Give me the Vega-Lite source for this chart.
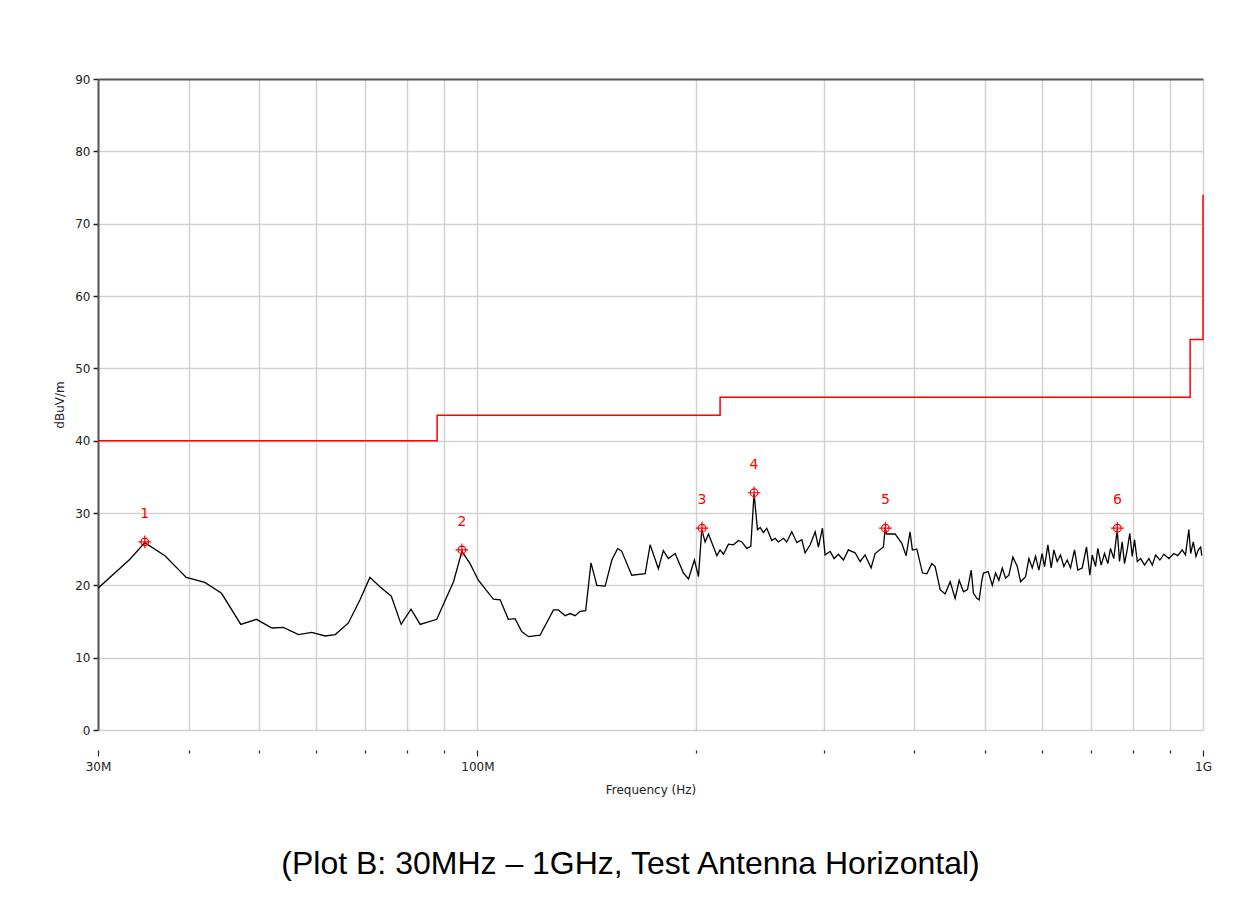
{
  "$schema": "https://vega.github.io/schema/vega-lite/v6.json",
  "autosize": {"type": "none"},
  "width": 1105,
  "height": 651,
  "padding": {"left": 98, "top": 79, "right": 50, "bottom": 184},
  "background": "white",
  "config": {
    "view": {"stroke": null},
    "axis": {"labelFont": "DejaVu Sans", "titleFont": "DejaVu Sans", "labelColor": "#222", "titleColor": "#222", "titleFontWeight": "normal"}
  },
  "title": {
    "text": "(Plot B: 30MHz – 1GHz, Test Antenna Horizontal)",
    "orient": "bottom",
    "anchor": "middle",
    "font": "Liberation Sans",
    "fontSize": 32,
    "fontWeight": "normal",
    "color": "#000",
    "offset": 54,
    "dx": -20
  },
  "datasets": {
    "trace": [
      {"freq": 30.0, "level": 19.6}, {"freq": 33.2, "level": 23.6}, {"freq": 34.8, "level": 25.9}, {"freq": 37.1, "level": 24.1},
      {"freq": 39.7, "level": 21.1}, {"freq": 42.1, "level": 20.4}, {"freq": 44.4, "level": 18.9}, {"freq": 47.2, "level": 14.6},
      {"freq": 49.6, "level": 15.3}, {"freq": 52.1, "level": 14.1}, {"freq": 54.0, "level": 14.2}, {"freq": 56.7, "level": 13.2},
      {"freq": 59.1, "level": 13.5}, {"freq": 61.7, "level": 13.0}, {"freq": 63.7, "level": 13.2}, {"freq": 66.4, "level": 14.8},
      {"freq": 68.9, "level": 18.0}, {"freq": 71.1, "level": 21.1}, {"freq": 73.4, "level": 19.8}, {"freq": 76.1, "level": 18.5},
      {"freq": 78.5, "level": 14.6}, {"freq": 81.0, "level": 16.7}, {"freq": 83.4, "level": 14.6}, {"freq": 87.9, "level": 15.3},
      {"freq": 92.7, "level": 20.5}, {"freq": 95.2, "level": 24.7}, {"freq": 97.7, "level": 23.0}, {"freq": 100.3, "level": 20.7},
      {"freq": 105.2, "level": 18.1}, {"freq": 107.5, "level": 18.0}, {"freq": 110.3, "level": 15.3}, {"freq": 112.7, "level": 15.4},
      {"freq": 115.1, "level": 13.6}, {"freq": 117.6, "level": 12.9}, {"freq": 122.0, "level": 13.1}, {"freq": 127.3, "level": 16.6},
      {"freq": 129.3, "level": 16.6}, {"freq": 132.1, "level": 15.8}, {"freq": 134.2, "level": 16.1}, {"freq": 136.4, "level": 15.8},
      {"freq": 138.5, "level": 16.4}, {"freq": 141.0, "level": 16.5}, {"freq": 143.4, "level": 23.1}, {"freq": 146.1, "level": 20.0},
      {"freq": 150.0, "level": 19.9}, {"freq": 153.2, "level": 23.5}, {"freq": 156.1, "level": 25.1}, {"freq": 158.1, "level": 24.7},
      {"freq": 163.2, "level": 21.4}, {"freq": 170.3, "level": 21.6}, {"freq": 173.0, "level": 25.6}, {"freq": 177.6, "level": 22.3},
      {"freq": 180.4, "level": 24.8}, {"freq": 183.3, "level": 23.7}, {"freq": 187.3, "level": 24.4}, {"freq": 192.3, "level": 21.7},
      {"freq": 195.4, "level": 20.9}, {"freq": 199.1, "level": 23.5}, {"freq": 201.7, "level": 21.2}, {"freq": 203.8, "level": 27.7},
      {"freq": 206.0, "level": 26.0}, {"freq": 208.2, "level": 27.1}, {"freq": 213.8, "level": 24.1}, {"freq": 216.0, "level": 24.9},
      {"freq": 218.3, "level": 24.3}, {"freq": 221.8, "level": 25.7}, {"freq": 225.4, "level": 25.6}, {"freq": 229.0, "level": 26.2},
      {"freq": 231.4, "level": 26.0}, {"freq": 235.1, "level": 25.1}, {"freq": 238.1, "level": 25.4}, {"freq": 240.6, "level": 32.7},
      {"freq": 243.2, "level": 27.7}, {"freq": 245.3, "level": 28.0}, {"freq": 247.8, "level": 27.3}, {"freq": 250.5, "level": 27.9},
      {"freq": 254.5, "level": 26.2}, {"freq": 257.2, "level": 26.5}, {"freq": 259.9, "level": 26.0}, {"freq": 264.1, "level": 26.5},
      {"freq": 266.9, "level": 26.0}, {"freq": 271.2, "level": 27.4}, {"freq": 275.6, "level": 25.9}, {"freq": 280.0, "level": 26.3},
      {"freq": 282.9, "level": 24.5}, {"freq": 287.5, "level": 25.6}, {"freq": 292.1, "level": 27.4}, {"freq": 295.1, "level": 25.3},
      {"freq": 298.9, "level": 27.9}, {"freq": 301.4, "level": 24.2}, {"freq": 306.3, "level": 24.7}, {"freq": 310.2, "level": 23.7},
      {"freq": 314.4, "level": 24.3}, {"freq": 319.5, "level": 23.5}, {"freq": 324.5, "level": 24.9}, {"freq": 331.5, "level": 24.5},
      {"freq": 336.9, "level": 23.3}, {"freq": 342.2, "level": 24.2}, {"freq": 348.8, "level": 22.4}, {"freq": 353.3, "level": 24.4},
      {"freq": 362.7, "level": 25.3}, {"freq": 364.7, "level": 27.9}, {"freq": 366.6, "level": 27.1}, {"freq": 376.4, "level": 27.1},
      {"freq": 384.5, "level": 25.8}, {"freq": 389.8, "level": 24.1}, {"freq": 394.7, "level": 27.4}, {"freq": 397.6, "level": 24.9},
      {"freq": 403.3, "level": 25.0}, {"freq": 410.6, "level": 21.7}, {"freq": 416.3, "level": 21.6}, {"freq": 423.0, "level": 23.0},
      {"freq": 427.4, "level": 22.6}, {"freq": 434.3, "level": 19.4}, {"freq": 441.2, "level": 18.8}, {"freq": 448.3, "level": 20.5},
      {"freq": 455.4, "level": 18.2}, {"freq": 461.3, "level": 20.7}, {"freq": 467.6, "level": 19.1}, {"freq": 473.6, "level": 19.4},
      {"freq": 479.2, "level": 22.1}, {"freq": 482.7, "level": 18.9}, {"freq": 487.9, "level": 18.2}, {"freq": 491.5, "level": 18.0},
      {"freq": 495.7, "level": 20.7}, {"freq": 498.2, "level": 21.7}, {"freq": 505.9, "level": 21.9}, {"freq": 512.4, "level": 20.0},
      {"freq": 517.8, "level": 21.7}, {"freq": 523.2, "level": 20.7}, {"freq": 528.9, "level": 22.4}, {"freq": 534.5, "level": 21.0},
      {"freq": 540.1, "level": 21.4}, {"freq": 547.0, "level": 23.9}, {"freq": 554.7, "level": 22.6}, {"freq": 560.5, "level": 20.5},
      {"freq": 569.5, "level": 21.2}, {"freq": 575.5, "level": 23.7}, {"freq": 581.7, "level": 22.4}, {"freq": 587.8, "level": 24.0},
      {"freq": 594.0, "level": 22.1}, {"freq": 600.1, "level": 24.4}, {"freq": 604.8, "level": 22.6}, {"freq": 611.2, "level": 25.6},
      {"freq": 617.8, "level": 22.4}, {"freq": 622.9, "level": 24.9}, {"freq": 629.6, "level": 23.3}, {"freq": 636.3, "level": 24.2},
      {"freq": 643.0, "level": 22.6}, {"freq": 649.9, "level": 23.5}, {"freq": 656.8, "level": 22.4}, {"freq": 665.2, "level": 24.9},
      {"freq": 672.2, "level": 22.1}, {"freq": 681.6, "level": 22.4}, {"freq": 691.0, "level": 25.3}, {"freq": 698.3, "level": 21.4},
      {"freq": 703.6, "level": 24.2}, {"freq": 711.0, "level": 22.6}, {"freq": 716.2, "level": 25.1}, {"freq": 723.9, "level": 22.8},
      {"freq": 731.6, "level": 24.4}, {"freq": 739.3, "level": 23.0}, {"freq": 745.6, "level": 25.1}, {"freq": 753.5, "level": 23.7},
      {"freq": 761.7, "level": 27.7}, {"freq": 767.2, "level": 23.3}, {"freq": 773.8, "level": 26.0}, {"freq": 779.5, "level": 23.0},
      {"freq": 786.2, "level": 24.9}, {"freq": 792.7, "level": 27.2}, {"freq": 798.8, "level": 24.0}, {"freq": 804.8, "level": 26.3},
      {"freq": 811.8, "level": 23.3}, {"freq": 820.3, "level": 23.7}, {"freq": 830.8, "level": 22.8}, {"freq": 842.2, "level": 23.7},
      {"freq": 851.4, "level": 22.8}, {"freq": 860.3, "level": 24.2}, {"freq": 872.2, "level": 23.5}, {"freq": 883.4, "level": 24.3},
      {"freq": 897.4, "level": 23.7}, {"freq": 911.5, "level": 24.4}, {"freq": 923.1, "level": 24.1}, {"freq": 936.1, "level": 24.9},
      {"freq": 946.0, "level": 24.2}, {"freq": 956.0, "level": 27.7}, {"freq": 961.7, "level": 24.4}, {"freq": 969.7, "level": 26.0},
      {"freq": 978.0, "level": 24.0}, {"freq": 985.2, "level": 24.9}, {"freq": 992.7, "level": 25.3}, {"freq": 996.0, "level": 24.1}
    ],
    "limit": [
      {"freq": 30, "level": 40, "step": 1}, {"freq": 88, "level": 40, "step": 2}, {"freq": 88, "level": 43.5, "step": 3},
      {"freq": 216, "level": 43.5, "step": 4}, {"freq": 216, "level": 46, "step": 5}, {"freq": 960, "level": 46, "step": 6},
      {"freq": 960, "level": 54, "step": 7}, {"freq": 1000, "level": 54, "step": 8}, {"freq": 1000, "level": 74, "step": 9}
    ],
    "markers": [
      {"id": "1", "freq": 34.8, "level": 26.0}, {"id": "2", "freq": 95.2, "level": 24.9}, {"id": "3", "freq": 204.0, "level": 27.9},
      {"id": "4", "freq": 240.6, "level": 32.8}, {"id": "5", "freq": 365.0, "level": 27.9}, {"id": "6", "freq": 762.0, "level": 27.9}
    ]
  },
  "layer": [
    {
      "data": {"name": "trace"},
      "mark": {"type": "line", "color": "#000000", "strokeWidth": 1.3, "clip": true},
      "encoding": {
        "x": {
          "field": "freq", "type": "quantitative",
          "scale": {"type": "log", "domain": [30, 1000], "nice": false, "zero": false},
          "axis": {
            "values": [30, 40, 50, 60, 70, 80, 90, 100, 200, 300, 400, 500, 600, 700, 800, 900, 1000],
            "labelExpr": "datum.value == 30 ? '30M' : datum.value == 100 ? '100M' : datum.value == 1000 ? '1G' : ''",
            "title": "Frequency (Hz)",
            "titleFontSize": 12,
            "titlePadding": 12,
            "labelFontSize": 12,
            "labelPadding": 5,
            "labelFlush": false,
            "labelOverlap": false,
            "offset": 20,
            "domain": false,
            "ticks": true,
            "tickColor": "#222",
            "tickWidth": 1.2,
            "tickSize": {"condition": {"test": "datum.value == 30 || datum.value == 100 || datum.value == 1000", "value": 6}, "value": 3},
            "grid": true,
            "gridColor": "#d2d2d2",
            "gridWidth": 1.5
          }
        },
        "y": {
          "field": "level", "type": "quantitative",
          "scale": {"domain": [0, 90], "nice": false, "zero": true},
          "axis": {
            "values": [0, 10, 20, 30, 40, 50, 60, 70, 80, 90],
            "title": "dBuV/m",
            "titleFontSize": 12,
            "titlePadding": 8,
            "labelFontSize": 12,
            "labelPadding": 3,
            "tickSize": 5,
            "tickColor": "#222",
            "tickWidth": 1.5,
            "domainColor": "#555555",
            "domainWidth": 2,
            "grid": true,
            "gridColor": {"condition": {"test": "datum.value == 90", "value": "#555555"}, "value": "#d2d2d2"},
            "gridWidth": {"condition": {"test": "datum.value == 90", "value": 2}, "value": 1.5}
          }
        }
      }
    },
    {
      "data": {"name": "limit"},
      "mark": {"type": "line", "color": "#ff0000", "strokeWidth": 1.5},
      "encoding": {
        "x": {"field": "freq", "type": "quantitative"},
        "y": {"field": "level", "type": "quantitative"},
        "order": {"field": "step", "type": "quantitative"}
      }
    },
    {
      "data": {"name": "markers"},
      "mark": {
        "type": "point",
        "shape": "M -1 0 L 1 0 M 0 -1 L 0 1 M -0.6 0 A 0.6 0.6 0 1 1 0.6 0 A 0.6 0.6 0 1 1 -0.6 0 Z",
        "filled": false,
        "stroke": "#ff0000",
        "strokeWidth": 1.2,
        "size": 160,
        "opacity": 1
      },
      "encoding": {
        "x": {"field": "freq", "type": "quantitative"},
        "y": {"field": "level", "type": "quantitative"}
      }
    },
    {
      "data": {"name": "markers"},
      "mark": {"type": "text", "color": "#ff0000", "font": "DejaVu Sans", "fontSize": 14, "dy": -28, "baseline": "middle", "align": "center"},
      "encoding": {
        "x": {"field": "freq", "type": "quantitative"},
        "y": {"field": "level", "type": "quantitative"},
        "text": {"field": "id"}
      }
    }
  ]
}
